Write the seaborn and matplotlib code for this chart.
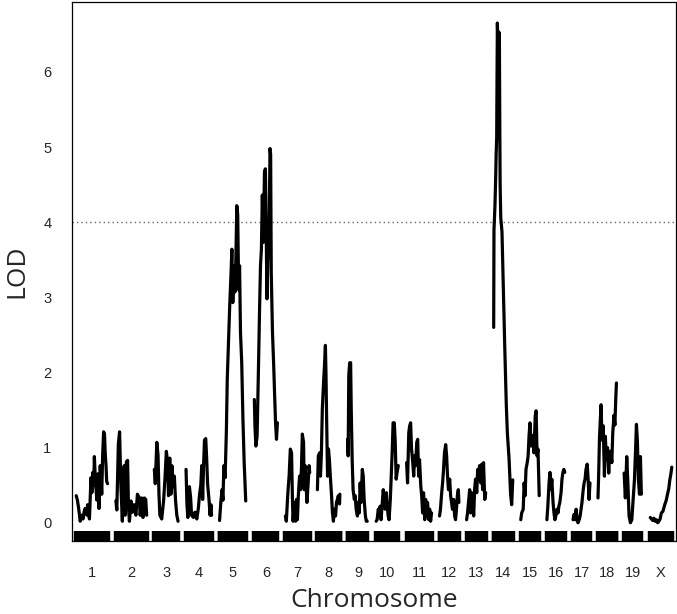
import numpy as np
import pandas as pd
import matplotlib
matplotlib.use("Agg")
import matplotlib.pyplot as plt
import seaborn as sns

chrom_names = ["1", "2", "3", "4", "5", "6", "7", "8", "9", "10",
               "11", "12", "13", "14", "15", "16", "17", "18", "19", "X"]
chrom_lengths = [105, 100, 78, 83, 89, 76, 79, 73, 68, 74,
                 82, 63, 63, 63, 60, 60, 56, 60, 60, 70]
lod_threshold = 4.0
y_ticks = [0, 1, 2, 3, 4, 5, 6]

chr1_pos = [1, 5, 9, 14, 19, 23, 27, 30, 36, 38, 42, 44, 49, 52, 55, 58, 60, 64, 66, 68, 71, 75, 77, 79, 82, 84, 87, 90, 93, 95, 98, 100, 103]
chr1_lod = [0.36, 0.30, 0.19, 0.02, 0.10, 0.05, 0.15, 0.19, 0.10, 0.24, 0.12, 0.05, 0.60, 0.40, 0.67, 0.50, 0.88, 0.50, 0.43, 0.30, 0.65, 0.19, 0.40, 0.76, 0.55, 0.38, 0.90, 1.21, 1.18, 0.95, 0.75, 0.55, 0.52]
chr2_pos = [0, 3, 8, 12, 16, 21, 24, 27, 30, 34, 38, 41, 44, 49, 54, 59, 65, 70, 76, 79, 83, 88, 92, 97, 100]
chr2_lod = [0.29, 0.17, 1.05, 1.21, 0.52, 0.02, 0.62, 0.76, 0.10, 0.81, 0.83, 0.19, 0.02, 0.29, 0.14, 0.24, 0.10, 0.38, 0.33, 0.10, 0.33, 0.07, 0.33, 0.31, 0.10]
chr3_pos = [0, 3, 8, 12, 15, 18, 24, 30, 35, 39, 43, 46, 50, 54, 57, 62, 65, 69, 73, 77]
chr3_lod = [0.71, 0.52, 1.07, 0.90, 0.38, 0.10, 0.05, 0.29, 0.62, 0.95, 0.81, 0.36, 0.86, 0.38, 0.76, 0.48, 0.62, 0.29, 0.10, 0.02]
chr4_pos = [0, 3, 6, 11, 15, 18, 24, 29, 35, 40, 44, 48, 51, 54, 57, 60, 64, 67, 70, 75, 78, 81, 83]
chr4_lod = [0.71, 0.24, 0.07, 0.48, 0.33, 0.10, 0.07, 0.14, 0.05, 0.19, 0.38, 0.50, 0.76, 0.31, 0.76, 1.10, 1.12, 0.86, 0.52, 0.29, 0.10, 0.24, 0.10]
chr5_pos = [1, 3, 5, 9, 12, 15, 19, 23, 26, 30, 34, 38, 41, 44, 48, 51, 54, 57, 60, 63, 66, 69, 73, 77, 81, 86]
chr5_lod = [0.03, 0.15, 0.27, 0.44, 0.30, 0.76, 0.60, 1.20, 1.91, 2.40, 2.89, 3.29, 3.64, 2.93, 3.42, 3.07, 3.51, 4.22, 4.10, 3.10, 3.42, 2.53, 2.13, 1.37, 0.80, 0.29]
chr6_pos = [0, 2, 5, 9, 11, 14, 17, 20, 23, 26, 29, 33, 36, 39, 41, 44, 48, 51, 53, 55, 59, 63, 66, 69, 72, 75]
chr6_lod = [1.64, 1.29, 1.02, 1.15, 1.56, 2.18, 2.84, 3.42, 3.64, 4.36, 3.73, 4.67, 4.71, 3.73, 2.98, 3.51, 3.87, 4.98, 4.90, 3.33, 2.53, 2.09, 1.69, 1.33, 1.11, 1.33]
chr7_pos = [0, 3, 8, 12, 16, 20, 23, 25, 29, 33, 36, 39, 42, 46, 49, 52, 55, 59, 61, 64, 67, 70, 74, 77, 79]
chr7_lod = [0.09, 0.02, 0.40, 0.62, 0.98, 0.93, 0.27, 0.02, 0.27, 0.02, 0.31, 0.04, 0.36, 0.62, 0.44, 0.71, 1.18, 1.07, 0.44, 0.76, 0.53, 0.27, 0.53, 0.76, 0.67]
chr8_pos = [0, 3, 7, 10, 13, 16, 20, 23, 26, 28, 30, 33, 36, 39, 42, 46, 49, 52, 55, 59, 62, 65, 68, 72, 73]
chr8_lod = [0.44, 0.89, 0.93, 0.62, 0.93, 1.51, 1.87, 2.09, 2.36, 1.96, 1.38, 0.62, 0.98, 0.84, 0.62, 0.36, 0.13, 0.02, 0.18, 0.09, 0.27, 0.31, 0.36, 0.25, 0.38]
chr9_pos = [0, 2, 4, 7, 10, 12, 15, 18, 22, 25, 28, 32, 35, 38, 41, 44, 48, 51, 54, 58, 61, 64]
chr9_lod = [1.11, 0.89, 1.96, 2.13, 2.13, 1.51, 0.84, 0.44, 0.31, 0.36, 0.18, 0.09, 0.27, 0.13, 0.53, 0.27, 0.71, 0.62, 0.31, 0.09, 0.02, 0.02]
chr10_pos = [0, 3, 7, 10, 13, 16, 20, 23, 26, 29, 33, 36, 39, 42, 46, 49, 52, 55, 59, 62, 65, 68, 72]
chr10_lod = [0.02, 0.04, 0.18, 0.09, 0.22, 0.04, 0.27, 0.44, 0.31, 0.18, 0.40, 0.22, 0.09, 0.04, 0.31, 0.62, 0.93, 1.33, 1.33, 1.07, 0.58, 0.67, 0.76]
chr11_pos = [0, 3, 7, 10, 13, 16, 20, 23, 26, 29, 33, 36, 39, 42, 46, 49, 52, 55, 59, 62, 65, 68, 72, 75, 78, 81]
chr11_lod = [0.80, 0.53, 1.20, 1.29, 1.33, 0.98, 0.80, 0.62, 0.89, 0.76, 1.07, 1.11, 0.62, 0.84, 0.49, 0.36, 0.13, 0.40, 0.04, 0.31, 0.09, 0.27, 0.04, 0.18, 0.02, 0.13]
chr12_pos = [0, 3, 7, 10, 13, 16, 20, 23, 26, 29, 33, 36, 39, 42, 46, 49, 52, 55, 58, 61, 63]
chr12_lod = [0.09, 0.18, 0.40, 0.53, 0.71, 0.93, 1.04, 0.89, 0.62, 0.44, 0.58, 0.36, 0.27, 0.18, 0.31, 0.09, 0.04, 0.18, 0.36, 0.44, 0.27]
chr13_pos = [0, 3, 7, 10, 13, 16, 20, 23, 26, 29, 33, 36, 39, 42, 46, 49, 52, 55, 59, 62]
chr13_lod = [0.04, 0.13, 0.31, 0.44, 0.13, 0.40, 0.27, 0.09, 0.44, 0.58, 0.40, 0.71, 0.58, 0.76, 0.53, 0.78, 0.44, 0.80, 0.31, 0.40]
chr14_pos = [0, 1, 4, 6.5, 8, 9.75, 11, 12, 13.5, 15, 16, 17, 18.5, 20, 21, 23, 27, 31.5, 36, 41, 44.5, 50, 55, 58.5, 62]
chr14_lod = [2.60, 3.90, 4.20, 4.59, 4.90, 5.12, 6.00, 6.65, 6.40, 5.12, 6.00, 6.53, 6.50, 5.16, 4.50, 4.06, 3.87, 3.10, 2.34, 1.57, 1.19, 0.85, 0.38, 0.24, 0.57]
chr15_pos = [0, 3, 8, 11, 14, 17, 21, 24, 27, 30, 34, 37, 40, 43, 47, 50, 53, 56, 60]
chr15_lod = [0.04, 0.13, 0.18, 0.53, 0.36, 0.71, 0.80, 0.89, 1.16, 1.33, 1.02, 1.11, 1.16, 0.93, 1.42, 1.49, 0.89, 0.98, 0.36]
chr16_pos = [0, 3, 7, 10, 13, 16, 20, 23, 26, 29, 33, 36, 39, 42, 46, 49, 52, 55, 58]
chr16_lod = [0.04, 0.22, 0.53, 0.67, 0.44, 0.58, 0.27, 0.13, 0.04, 0.09, 0.18, 0.13, 0.22, 0.27, 0.40, 0.58, 0.67, 0.71, 0.67]
chr17_pos = [0, 3, 7, 10, 13, 16, 20, 23, 26, 29, 33, 36, 39, 42, 46, 49, 52, 55]
chr17_lod = [0.04, 0.11, 0.04, 0.18, 0.04, 0.00, 0.04, 0.09, 0.18, 0.27, 0.44, 0.53, 0.58, 0.71, 0.78, 0.58, 0.31, 0.53]
chr18_pos = [0, 2, 5, 8, 10, 13, 17, 21, 24, 27, 31, 35, 38, 42, 45, 48, 52, 55, 58, 60]
chr18_lod = [0.33, 0.60, 1.14, 1.40, 1.57, 1.10, 1.29, 0.62, 1.15, 0.85, 1.00, 0.66, 0.95, 0.95, 0.80, 1.19, 1.43, 1.30, 1.67, 1.86]
chr19_pos = [0, 4, 8.5, 12, 16, 20.5, 25, 29, 33.5, 37, 40, 43, 46.5, 50, 53, 56]
chr19_lod = [0.66, 0.33, 0.88, 0.55, 0.09, 0.00, 0.04, 0.29, 0.57, 0.95, 1.31, 1.10, 0.57, 0.38, 0.88, 0.38]
chrX_pos = [0, 4, 8, 12, 16, 20, 24, 28, 32, 36, 41, 47, 52, 56, 60, 63.5, 67, 70]
chrX_lod = [0.07, 0.05, 0.03, 0.06, 0.02, 0.04, 0.00, 0.02, 0.05, 0.13, 0.15, 0.24, 0.30, 0.38, 0.45, 0.57, 0.65, 0.74]

positions = [chr1_pos, chr2_pos, chr3_pos, chr4_pos, chr5_pos, chr6_pos, chr7_pos,
             chr8_pos, chr9_pos, chr10_pos, chr11_pos, chr12_pos, chr13_pos, chr14_pos,
             chr15_pos, chr16_pos, chr17_pos, chr18_pos, chr19_pos, chrX_pos]
lods = [chr1_lod, chr2_lod, chr3_lod, chr4_lod, chr5_lod, chr6_lod, chr7_lod,
        chr8_lod, chr9_lod, chr10_lod, chr11_lod, chr12_lod, chr13_lod, chr14_lod,
        chr15_lod, chr16_lod, chr17_lod, chr18_lod, chr19_lod, chrX_lod]

GAP = 25  # cM gap between chromosomes (layout)
starts = np.concatenate([[0], np.cumsum(np.array(chrom_lengths[:-1]) + GAP)])
mids = starts + np.array(chrom_lengths) / 2.0

frames = []
for name, st, p, l in zip(chrom_names, starts, positions, lods):
    frames.append(pd.DataFrame({"chr": name, "gpos": st + np.array(p, float), "lod": l}))
df = pd.concat(frames, ignore_index=True)

sns.set_style("white")
plt.rcParams["font.family"] = ["Liberation Sans", "DejaVu Sans"]

fig = plt.figure(figsize=(6.77, 6.14), dpi=100)
ax = fig.add_axes([72.3 / 677, 1 - 541 / 614, (675.5 - 72.3) / 677, (541 - 2) / 614])

sns.lineplot(data=df, x="gpos", y="lod", units="chr", estimator=None, sort=False,
             color="black", lw=2.3, ax=ax, legend=False)
ax.axhline(lod_threshold, color="#666666", lw=1.0, ls=(0, (1, 2.2)), zorder=1)

x_left = -11.7
x_right = starts[-1] + chrom_lengths[-1] + 12
ax.set_xlim(x_left, x_right)
ax.set_ylim(-0.243, 6.93)

sns.rugplot(x=df["gpos"], height=0.019, color="black", linewidth=3.2, ax=ax,
            expand_margins=False)

ax.set_xticks(mids)
ax.set_xticklabels(chrom_names, fontsize=10.5)
ax.set_yticks(y_ticks)
ax.set_yticklabels([str(t) for t in y_ticks], fontsize=10.5)
ax.tick_params(axis="both", direction="out", length=7, width=0.8, color="black", pad=8)
ax.tick_params(axis="x", pad=11)
for s in ax.spines.values():
    s.set_color("black")
    s.set_linewidth(0.9)

ax.set_xlabel("Chromosome", fontsize=19, family=["Open Sans", "DejaVu Sans"], labelpad=6)
ax.set_ylabel("LOD", fontsize=19, family=["Open Sans", "DejaVu Sans"], labelpad=10)

fig.savefig("out.png", dpi=100)
